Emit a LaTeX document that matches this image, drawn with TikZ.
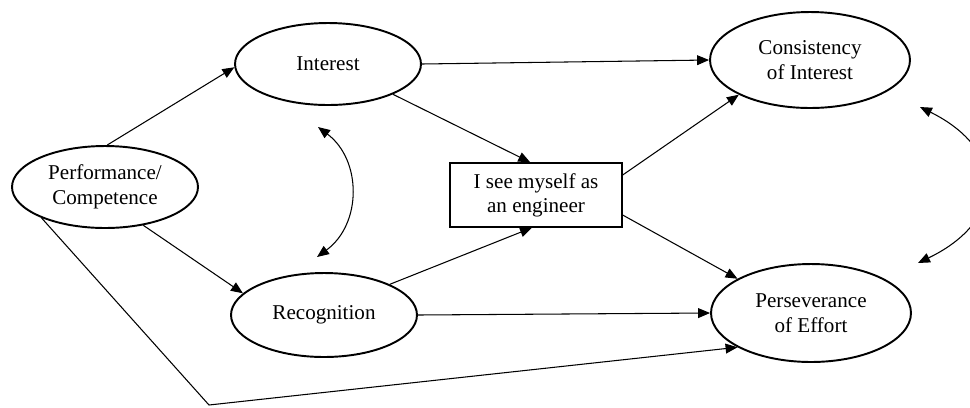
\documentclass[tikz,border=0pt]{standalone}
\usepackage{fontspec}
\setmainfont{Liberation Serif}
\usetikzlibrary{shapes.geometric,arrows.meta}
\tikzset{
  oval/.style={ellipse,draw,line width=1.1pt,inner sep=0pt,align=center,font=\fontsize{12}{14.5}\selectfont},
  rbox/.style={rectangle,draw,line width=0.8pt,inner sep=0pt,align=center,font=\fontsize{12}{13.5}\selectfont,minimum width=3.44cm,minimum height=1.28cm},
  conn/.style={line width=0.6pt,-{Triangle[length=6.8pt,width=5.6pt]}},
  dconn/.style={line width=0.6pt,{Triangle[length=6.8pt,width=5.6pt]}-{Triangle[length=6.8pt,width=5.6pt]}}
}
\begin{document}
\begin{tikzpicture}[x=0.02cm,y=-0.02cm]
\useasboundingbox (0,0) rectangle (970,407);
\node[oval,minimum width=3.72cm,minimum height=1.64cm] (pc) at (105,187) {Performance/\\Competence};
\node[oval,minimum width=3.72cm,minimum height=1.64cm] (int) at (328,64) {Interest};
\node[oval,minimum width=3.72cm,minimum height=1.68cm] (rec) at (324,315) {Recognition};
\node[rbox] (box) at (536,195) {I see myself as\\an engineer};
\node[oval,minimum width=4.0cm,minimum height=1.92cm] (con) at (810,60) {Consistency\\of Interest};
\node[oval,minimum width=4.0cm,minimum height=1.96cm] (per) at (811,313) {Perseverance\\of Effort};
\coordinate (corner) at (209,405);
\coordinate (la) at (318,127);
\coordinate (lb) at (317,257);
\coordinate (ra) at (920,107);
\coordinate (rb) at (918,263);
\draw[conn] (pc.87) -- (int.182);
\draw[conn] (pc.-45) -- (rec.165);
\draw[conn] (int.0) -- (con.180);
\draw[conn] (int.-25) -- (box.100);
\draw[conn] (rec.25) -- (box.263);
\draw[conn] (rec.0) -- (per.180);
\draw[conn] (box.13) -- (con.-154);
\draw[conn] (box.-13) -- (per.155);
\draw[conn] (pc.-154.5) -- (corner) -- (per.205);
\draw[dconn] (la) .. controls (362,160) and (362,224) .. (lb);
\draw[dconn] (ra) .. controls (1007,150) and (1007,220) .. (rb);
\end{tikzpicture}
\end{document}
